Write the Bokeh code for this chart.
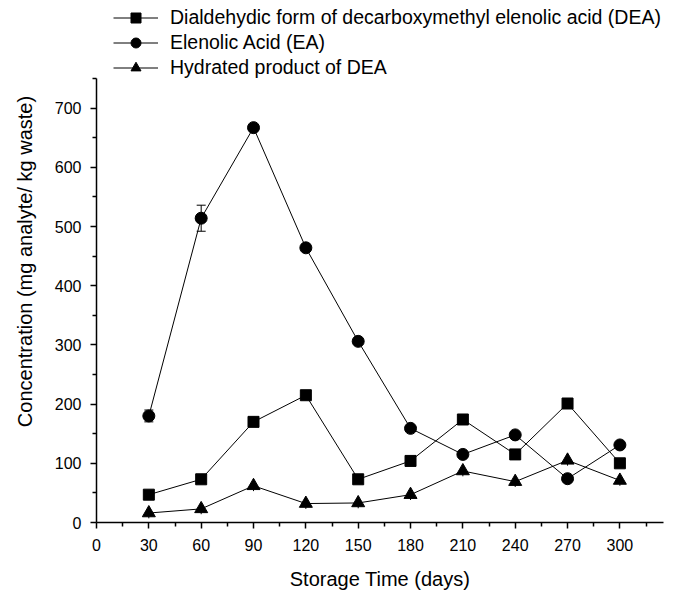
from bokeh.plotting import figure
from bokeh.models import (Range1d, Whisker, ColumnDataSource, Legend, LegendItem,
                          FixedTicker, TeeHead)
from bokeh.embed import file_html
from bokeh.resources import INLINE

# ---- data ----
days = [30, 60, 90, 120, 150, 180, 210, 240, 270, 300]
dea = [47, 73, 170, 215, 73, 104, 174, 115, 201, 100]
ea = [180, 514, 667, 464, 306, 159, 115, 148, 74, 131]
ea_err = [10, 22, 0, 0, 0, 0, 0, 0, 0, 0]
hyd = [16, 23, 62, 32, 33, 47, 87, 69, 105, 71]
hyd_err = [9, 9, 9, 9, 9, 9, 9, 9, 9, 9]

x_ticks = [0, 30, 60, 90, 120, 150, 180, 210, 240, 270, 300]
x_minor = [15, 45, 75, 105, 135, 165, 195, 225, 255, 285, 315]
y_ticks = [0, 100, 200, 300, 400, 500, 600, 700]
y_minor = [50, 150, 250, 350, 450, 550, 650, 750]
y_axis_max = 750

labels = ["Dialdehydic form of decarboxymethyl elenolic acid (DEA)",
          "Elenolic Acid (EA)",
          "Hydrated product of DEA"]

FONT = "Liberation Sans"

# frame extends up to the top of the page so the legend fits inside it;
# the y axis line itself stops at 750
y_top = y_axis_max * 522 / 444

p = figure(width=675, height=594, output_backend="svg", toolbar_location=None,
           x_range=Range1d(0, 325), y_range=Range1d(0, y_top),
           min_border_left=96, min_border_right=12, min_border_top=0,
           min_border_bottom=72)
p.outline_line_color = None
p.xgrid.visible = False
p.ygrid.visible = False
p.background_fill_color = "white"
p.border_fill_color = "white"

p.xaxis.ticker = FixedTicker(ticks=x_ticks, minor_ticks=x_minor)
p.yaxis.ticker = FixedTicker(ticks=y_ticks, minor_ticks=y_minor)
p.yaxis.bounds = (0, y_axis_max)
for ax in (p.xaxis[0], p.yaxis[0]):
    ax.axis_line_width = 1.5
    ax.axis_line_color = "black"
    ax.major_tick_line_color = "black"
    ax.minor_tick_line_color = "black"
    ax.major_tick_line_width = 1.5
    ax.minor_tick_line_width = 1.5
    ax.major_tick_in = 0
    ax.major_tick_out = 6
    ax.minor_tick_in = 0
    ax.minor_tick_out = 4
    ax.major_label_text_font = FONT
    ax.major_label_text_font_size = "16px"
    ax.major_label_text_color = "black"
    ax.axis_label_text_font = FONT
    ax.axis_label_text_font_size = "20px"
    ax.axis_label_text_font_style = "normal"
    ax.axis_label_text_color = "black"
p.xaxis.axis_label = "Storage Time (days)"
p.yaxis.axis_label = "Concentration (mg analyte/ kg waste)"
p.xaxis.major_label_standoff = 10
p.yaxis.major_label_standoff = 9
p.xaxis.axis_label_standoff = 14
p.yaxis.axis_label_standoff = 16

src = ColumnDataSource(dict(x=days, dea=dea, ea=ea, hyd=hyd,
                            ea_lo=[v - e for v, e in zip(ea, ea_err)],
                            ea_hi=[v + e for v, e in zip(ea, ea_err)],
                            hyd_lo=[v - e for v, e in zip(hyd, hyd_err)],
                            hyd_hi=[v + e for v, e in zip(hyd, hyd_err)]))

w1 = Whisker(source=src, base="x", upper="ea_hi", lower="ea_lo",
             line_color="black", line_width=1,
             upper_head=TeeHead(size=9, line_color="black", line_width=1),
             lower_head=TeeHead(size=9, line_color="black", line_width=1))
w2 = Whisker(source=src, base="x", upper="hyd_hi", lower="hyd_lo",
             line_color="black", line_width=1,
             upper_head=None, lower_head=None)
p.add_layout(w1)
p.add_layout(w2)

l1 = p.line("x", "dea", source=src, line_color="black", line_width=1)
s1 = p.scatter("x", "dea", source=src, marker="square", size=11,
               fill_color="black", line_color="black")
l2 = p.line("x", "ea", source=src, line_color="black", line_width=1)
s2 = p.scatter("x", "ea", source=src, marker="circle", size=12,
               fill_color="black", line_color="black")
l3 = p.line("x", "hyd", source=src, line_color="black", line_width=1)
s3 = p.scatter("x", "hyd", source=src, marker="triangle", size=13,
               fill_color="black", line_color="black")

legend = Legend(items=[LegendItem(label=labels[0], renderers=[l1, s1]),
                       LegendItem(label=labels[1], renderers=[l2, s2]),
                       LegendItem(label=labels[2], renderers=[l3, s3])],
                location=(17, 442), orientation="vertical",
                glyph_width=45, glyph_height=25, label_height=25,
                spacing=0, padding=0, margin=0, label_standoff=12,
                border_line_color=None, background_fill_alpha=0,
                label_text_font=FONT, label_text_font_size="19.5px",
                label_text_color="black")
p.add_layout(legend, "center")

open("out.html", "w").write(file_html(p, INLINE))
